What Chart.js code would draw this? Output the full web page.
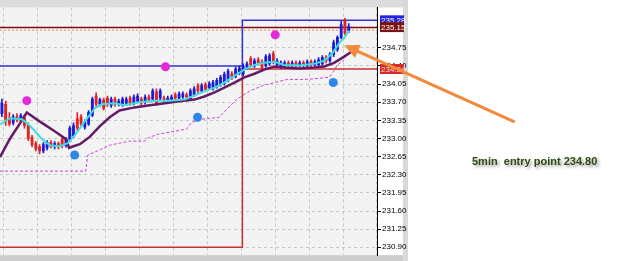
<!DOCTYPE html>
<html>
<head>
<meta charset="utf-8">
<script src="https://cdn.jsdelivr.net/npm/chart.js@4.4.0/dist/chart.umd.min.js"></script>
<style>
  html, body { margin: 0; padding: 0; background: #fff; }
  #wrap { position: relative; width: 625px; height: 261px; }
  #note {
    position: absolute; left: 472px; top: 155px;
    font: bold 11px "Liberation Sans", Arial, sans-serif;
    color: #2d4a12; white-space: pre;
    text-shadow: 2px 2px 3px rgba(60, 60, 60, 0.5);
  }
</style>
</head>
<body>
<div id="wrap">
  <canvas id="chart" width="625" height="261"></canvas>
  <div id="note">5min  entry point 234.80</div>
</div>
<script>
// candle data, one entry per bar (index = bar number)
const opens  = [233.48,233.66,233.40,233.30,233.42,233.36,233.40,233.26,233.02,232.90,
                232.84,232.76,232.82,232.92,232.84,232.90,232.98,232.86,232.98,233.05,
                233.38,233.42,233.22,233.28,233.45,233.82,233.66,233.74,233.78,233.64,
                233.76,233.66,233.66,233.68,233.78,233.68,233.72,233.76,233.70,233.80,
                233.76,233.90,233.78,233.78,233.74,233.74,233.84,233.78,233.80,233.84,
                233.76,233.84,234.02,233.92,234.04,233.98,233.96,234.00,234.04,234.06,
                234.12,234.25,234.20,234.26,234.24,234.36,234.54,234.40,234.52,234.48,
                234.40,234.44,234.64,234.42,234.38,234.40,234.46,234.40,234.46,234.40,
                234.46,234.40,234.48,234.42,234.42,234.44,234.56,234.50,234.62,234.72,
                234.95,235.26,235.08];
const highs  = [233.76,233.72,233.50,233.46,233.48,233.48,233.46,233.30,233.06,232.94,
                232.88,232.92,232.96,232.96,232.94,232.93,233.02,233.02,233.24,233.30,
                233.50,233.46,233.36,233.54,233.80,233.88,233.78,233.78,233.82,233.80,
                233.80,233.76,233.80,233.80,233.82,233.84,233.86,233.80,233.84,233.84,
                233.96,233.96,233.96,233.82,233.82,233.84,233.88,233.90,233.90,233.88,
                233.96,234.00,234.06,234.06,234.08,234.10,234.12,234.16,234.22,234.28,
                234.34,234.29,234.38,234.40,234.44,234.48,234.58,234.54,234.56,234.52,
                234.62,234.64,234.68,234.54,234.50,234.50,234.50,234.50,234.50,234.50,
                234.50,234.52,234.52,234.52,234.56,234.60,234.60,234.66,234.90,234.98,
                235.26,235.32,235.22];
const lows   = [233.42,233.25,233.24,233.26,233.32,233.33,233.20,232.96,232.84,232.76,
                232.70,232.72,232.78,232.82,232.80,232.80,232.82,232.83,232.95,233.02,
                233.16,233.24,233.18,233.25,233.42,233.62,233.62,233.55,233.62,233.60,
                233.62,233.63,233.62,233.65,233.64,233.65,233.69,233.64,233.66,233.70,
                233.72,233.64,233.74,233.70,233.71,233.71,233.74,233.75,233.77,233.76,
                233.73,233.81,233.88,233.89,233.91,233.95,233.93,233.97,234.01,234.03,
                234.09,234.14,234.17,234.23,234.21,234.33,234.38,234.37,234.42,234.32,
                234.37,234.41,234.44,234.39,234.35,234.37,234.38,234.37,234.36,234.37,
                234.38,234.37,234.38,234.39,234.39,234.41,234.46,234.47,234.58,234.68,
                234.92,235.00,235.04];
const closes = [233.68,233.32,233.28,233.42,233.36,233.44,233.25,233.00,232.88,232.80,
                232.76,232.88,232.92,232.85,232.90,232.84,232.86,232.98,233.20,233.25,
                233.20,233.28,233.32,233.50,233.76,233.66,233.75,233.58,233.66,233.76,
                233.66,233.72,233.76,233.76,233.68,233.80,233.82,233.68,233.80,233.74,
                233.92,233.68,233.92,233.74,233.78,233.80,233.78,233.86,233.86,233.80,
                233.92,233.96,233.92,234.02,233.95,234.06,234.08,234.12,234.18,234.24,
                234.30,234.18,234.34,234.36,234.40,234.44,234.42,234.50,234.46,234.36,
                234.58,234.60,234.48,234.50,234.46,234.46,234.42,234.46,234.40,234.46,
                234.42,234.48,234.42,234.48,234.52,234.56,234.50,234.62,234.85,234.95,
                235.20,235.04,235.16];

// fast moving average (cyan)
const fastX = [-0.5,2.1,5.3,6.9,8.8,10.6,12.7,15.4,17.5,19.3,22,24.6,26.5,29.9,32.6,36.5,40.5,44.5,48.4,
               51.1,53.7,56.4,59,61.7,64.3,67,69.6,72.3,74.9,78.9,82.8,85.5,87.6,89.4,90.8,92.1];
const fastY = [233.27,233.39,233.37,233.29,233.14,232.99,232.87,232.85,232.91,233.06,233.33,233.58,233.66,
               233.68,233.64,233.70,233.73,233.73,233.75,233.83,233.91,233.98,234.08,234.21,234.33,234.42,
               234.46,234.48,234.42,234.41,234.44,234.50,234.64,234.83,234.94,235.08];

// slow moving average (purple)
const slowX = [-0.5,2.1,4.8,6.6,10,14,16.2,17.2,17.8,20.7,23.3,26,28.6,31.2,35.2,39.2,43.2,47.1,51.1,
               53.7,56.4,59,61.7,64.3,67,69.6,72.3,74.9,78.9,82.8,85.5,88.1,90.8,92.6];
const slowY = [232.64,232.99,233.29,233.50,233.33,233.14,233.03,232.97,232.82,232.89,233.03,233.24,233.41,
               233.54,233.60,233.64,233.68,233.72,233.75,233.81,233.89,233.98,234.08,234.18,234.25,234.33,
               234.39,234.37,234.35,234.37,234.39,234.46,234.58,234.67];

// trailing stop (magenta dashed)
const trailX = [-0.5,22.25,22.8,26,28.6,33.9,37.9,38.7,41.3,49,50.3,52.9,57.7,59.6,62.2,65.6,69.1,75.7,
                80.7,86.8,87.9,88.9,90.8];
const trailY = [232.37,232.37,232.68,232.78,232.87,232.95,232.95,233.01,233.08,233.18,233.31,233.37,233.41,
                233.56,233.75,233.91,234.02,234.14,234.14,234.18,234.29,234.41,234.52];

// signal dots
const sellDotX = [6.6, 43.4, 72.5];
const sellDotY = [233.73, 234.385, 235.00];
const buyDotX  = [19.3, 51.9, 87.9];
const buyDotY  = [232.68, 233.41, 234.08];

// box levels (step lines)
const upperBoxX = [-0.5, 63.8, 63.8, 99.5];
const upperBoxY = [234.40, 234.40, 235.28, 235.28];
const lowerBoxX = [-0.5, 63.8, 63.8, 99.5];
const lowerBoxY = [230.90, 230.90, 234.34, 234.34];
const resistX = [-0.5, 99.5];
const resistY = [235.14, 235.14];
const askY    = [235.09, 235.09];

// axis
const yTicks = [234.75, 234.40, 234.05, 233.70, 233.35, 233.00, 232.65, 232.30, 231.95, 231.60, 231.25, 230.90];
const xGrid  = [5, 14, 23, 32, 41, 50, 59, 68, 77, 86, 95];
const priceTags   = [235.28, 235.15, 234.34];
const priceTagBg  = ['#2424d8', '#7a1212', '#d42a2a'];
const priceTagTxt = ['#ffffff', '#ffffff', '#ffe0e0'];

// entry arrow (data units)
const arrowFrom = { x: 135.7, y: 233.33 };
const arrowTo   = { x: 90.8,  y: 234.80 };

const zip = (xs, ys) => xs.map((x, i) => ({ x: x, y: ys[i] }));
const upColor = '#1c1cd8';
const downColor = '#e02222';
const candleColors = opens.map((o, i) => closes[i] >= o ? upColor : downColor);

const bgPlugin = {
    id: 'bg',
    beforeDraw(chart) {
        const ctx = chart.ctx;
        const a = chart.chartArea;
        ctx.save();
        ctx.fillStyle = '#ffffff';
        ctx.fillRect(0, 0, chart.width, chart.height);
        ctx.fillStyle = '#f3f3f3';
        ctx.fillRect(a.left, a.top, a.right - a.left, a.bottom - a.top);
        ctx.fillStyle = '#dcdcdc';
        ctx.fillRect(0, 0, a.right + 31, a.top);
        ctx.fillStyle = '#cccccc';
        ctx.fillRect(0, a.bottom, a.right + 31, chart.height - a.bottom);
        ctx.fillStyle = '#d8d8d8';
        ctx.fillRect(a.right + 26, 0, 5, chart.height);
        ctx.restore();
    },
    afterDraw(chart) {
        const ctx = chart.ctx;
        const a = chart.chartArea;
        const xs = chart.scales.x;
        const ys = chart.scales.y;
        ctx.save();
        // price tags on the axis
        ctx.font = '8px "Liberation Sans", Arial, sans-serif';
        ctx.textBaseline = 'middle';
        priceTags.forEach((v, i) => {
            const py = ys.getPixelForValue(v);
            ctx.fillStyle = priceTagBg[i];
            ctx.fillRect(a.right + 3, py - 5, 24, 10);
            ctx.fillStyle = priceTagTxt[i];
            ctx.fillText(v.toFixed(2), a.right + 4, py + 0.5);
        });
        // arrow
        const x1 = xs.getPixelForValue(arrowFrom.x), y1 = ys.getPixelForValue(arrowFrom.y);
        const x2 = xs.getPixelForValue(arrowTo.x), y2 = ys.getPixelForValue(arrowTo.y);
        const ang = Math.atan2(y2 - y1, x2 - x1);
        const head = 15, half = 7;
        const bx = x2 - head * Math.cos(ang), by = y2 - head * Math.sin(ang);
        ctx.strokeStyle = '#f28a3c';
        ctx.lineWidth = 3.2;
        ctx.lineCap = 'round';
        ctx.beginPath();
        ctx.moveTo(x1, y1);
        ctx.lineTo(bx, by);
        ctx.stroke();
        ctx.fillStyle = '#f28a3c';
        ctx.beginPath();
        ctx.moveTo(x2, y2);
        ctx.lineTo(bx + half * Math.sin(ang), by - half * Math.cos(ang));
        ctx.lineTo(bx - half * Math.sin(ang), by + half * Math.cos(ang));
        ctx.closePath();
        ctx.fill();
        ctx.restore();
    }
};

const lineDs = (xs, ys, color, width, order, extra) => Object.assign({
    type: 'line',
    data: zip(xs, ys),
    borderColor: color,
    borderWidth: width,
    pointRadius: 0,
    fill: false,
    tension: 0,
    order: order
}, extra || {});

new Chart(document.getElementById('chart'), {
    type: 'bar',
    data: {
        datasets: [
            lineDs(resistX, resistY, '#7a0e0e', 1.5, 12),
            lineDs(resistX, askY, '#e8904a', 1, 12, { borderDash: [2, 2] }),
            lineDs(upperBoxX, upperBoxY, '#3434d4', 1.5, 11),
            lineDs(lowerBoxX, lowerBoxY, '#c83232', 1.5, 11),
            lineDs(trailX, trailY, '#d040d0', 1, 10, { borderDash: [3, 2] }),
            {
                type: 'bar',
                data: highs.map((h, i) => ({ x: i, y: [lows[i], h] })),
                backgroundColor: candleColors,
                barThickness: 1,
                grouped: false,
                order: 8
            },
            {
                type: 'bar',
                data: opens.map((o, i) => ({ x: i, y: [o, closes[i]] })),
                backgroundColor: candleColors,
                barThickness: 2.2,
                minBarLength: 1,
                grouped: false,
                order: 7
            },
            lineDs(slowX, slowY, '#651a66', 2.5, 5),
            lineDs(fastX, fastY, '#3fdede', 2, 4),
            {
                type: 'line', data: zip(sellDotX, sellDotY), showLine: false,
                pointRadius: 4.5, pointBackgroundColor: '#e22ad8', pointBorderWidth: 0, order: 1
            },
            {
                type: 'line', data: zip(buyDotX, buyDotY), showLine: false,
                pointRadius: 4.5, pointBackgroundColor: '#2f86e6', pointBorderWidth: 0, order: 1
            }
        ]
    },
    options: {
        responsive: false,
        devicePixelRatio: 1,
        animation: false,
        layout: { autoPadding: false, padding: { left: 0, top: 7.5, right: 218, bottom: 4.5 } },
        plugins: { legend: { display: false }, tooltip: { enabled: false } },
        scales: {
            x: {
                type: 'linear',
                min: -0.5,
                max: 99.5,
                offset: false,
                afterBuildTicks: s => { s.ticks = xGrid.map(v => ({ value: v })); },
                afterFit: s => { s.height = 0; s.paddingLeft = 0; s.paddingRight = 0; },
                ticks: { display: false },
                grid: { color: '#c2cbc2', drawTicks: false },
                border: { display: false, dash: [3, 3] }
            },
            y: {
                position: 'right',
                min: 230.747,
                max: 235.528,
                afterBuildTicks: s => { s.ticks = yTicks.map(v => ({ value: v })); },
                afterFit: s => { s.width = 30; },
                ticks: {
                    autoSkip: false,
                    color: '#000',
                    padding: 1,
                    font: { size: 8, family: '"Liberation Sans", Arial, sans-serif' },
                    callback: v => Number(v).toFixed(2)
                },
                grid: { color: '#c2cbc2', tickColor: '#000', tickLength: 4, tickBorderDash: [] },
                border: { display: true, color: '#000', width: 1, dash: [3, 3] }
            }
        }
    },
    plugins: [bgPlugin]
});
</script>
</body>
</html>
